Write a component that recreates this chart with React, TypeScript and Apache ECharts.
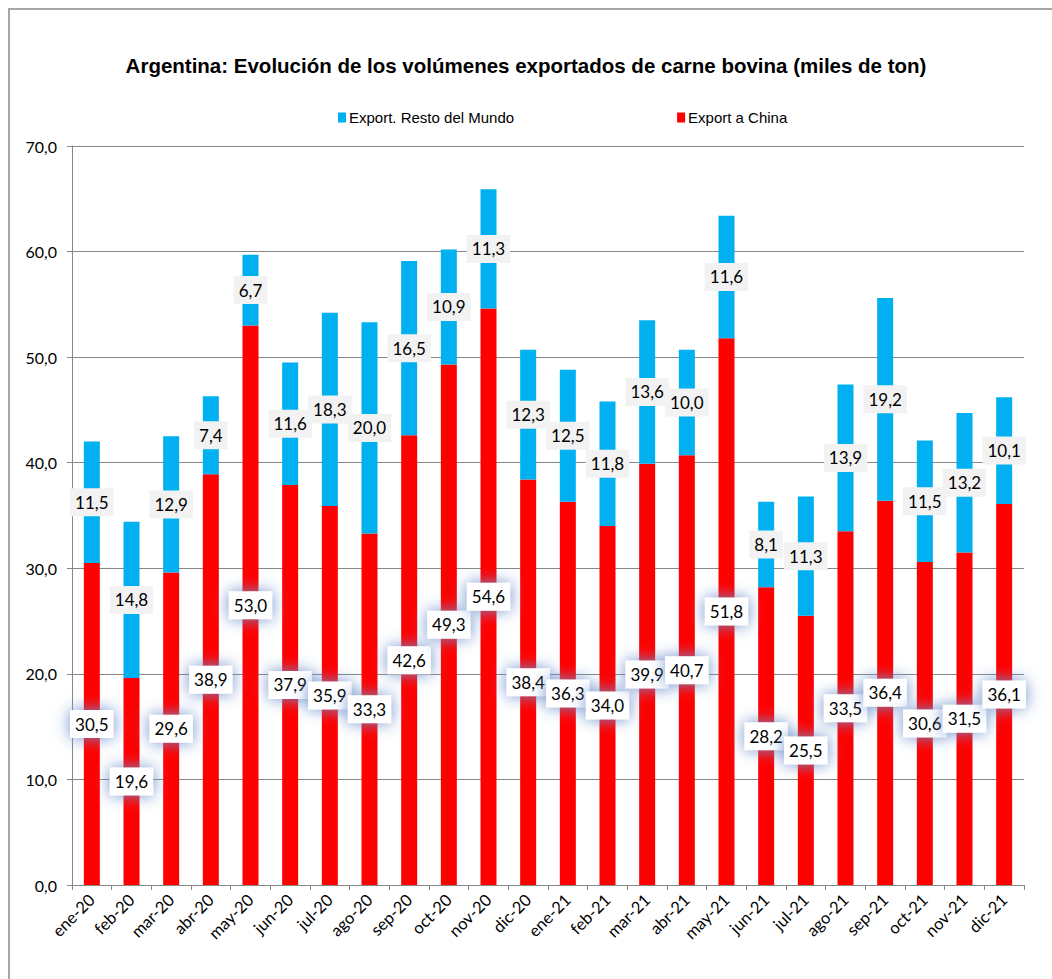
import React, { useEffect, useRef } from "react";
import * as echarts from "echarts";

const categories = [
  "ene-20", "feb-20", "mar-20", "abr-20", "may-20", "jun-20", "jul-20", "ago-20", "sep-20", "oct-20", "nov-20", "dic-20",
  "ene-21", "feb-21", "mar-21", "abr-21", "may-21", "jun-21", "jul-21", "ago-21", "sep-21", "oct-21", "nov-21", "dic-21",
];
const exportChina = [
  30.5, 19.6, 29.6, 38.9, 53.0, 37.9, 35.9, 33.3, 42.6, 49.3, 54.6, 38.4,
  36.3, 34.0, 39.9, 40.7, 51.8, 28.2, 25.5, 33.5, 36.4, 30.6, 31.5, 36.1,
];
const exportResto = [
  11.5, 14.8, 12.9, 7.4, 6.7, 11.6, 18.3, 20.0, 16.5, 10.9, 11.3, 12.3,
  12.5, 11.8, 13.6, 10.0, 11.6, 8.1, 11.3, 13.9, 19.2, 11.5, 13.2, 10.1,
];
const titleText = "Argentina: Evolución de los volúmenes exportados de carne bovina (miles de ton)";
const nameResto = "Export. Resto del Mundo";
const nameChina = "Export a China";

const fmt = (v: number) => v.toFixed(1).replace(".", ",");

export default function App() {
  const ref = useRef<HTMLDivElement>(null);
  useEffect(() => {
    if (!ref.current) return;
    const chart = echarts.init(ref.current, null, { renderer: "svg" });
    const labelFont = "Lato, 'Open Sans', sans-serif";
    chart.setOption({
      animation: false,
      backgroundColor: "#ffffff",
      title: {
        text: titleText,
        left: "center",
        top: 50,
        textStyle: {
          fontFamily: "'Liberation Sans', Arial, sans-serif",
          fontWeight: "bold",
          fontSize: 20.5,
          color: "#000",
        },
      },
      legend: {
        data: [nameResto, nameChina],
        left: 333,
        top: 105,
        itemWidth: 8,
        itemHeight: 10,
        itemGap: 163,
        icon: "rect",
        textStyle: {
          fontFamily: "'Liberation Sans', Arial, sans-serif",
          fontSize: 15,
          color: "#000",
          padding: [0, 0, 0, -2],
        },
      },
      graphic: [
        {
          type: "rect",
          shape: { x: 9, y: 9, width: 1200, height: 1200 },
          style: { fill: "none", stroke: "#a6a6a6", lineWidth: 2 },
          silent: true,
        },
      ],
      grid: { left: 72, right: 28, top: 146, bottom: 94, containLabel: false },
      xAxis: {
        type: "category",
        data: categories,
        axisLine: { show: true, lineStyle: { color: "#868686" } },
        axisTick: { show: true, interval: 0, length: 5, lineStyle: { color: "#868686" } },
        axisLabel: {
          interval: 0,
          rotate: 45,
          margin: 12,
          fontFamily: labelFont,
          fontSize: 16.5,
          color: "#000",
        },
      },
      yAxis: {
        type: "value",
        min: 0,
        max: 70,
        interval: 10,
        axisLine: { show: true, lineStyle: { color: "#868686" } },
        axisTick: { show: true, length: 5, lineStyle: { color: "#868686" } },
        splitLine: { show: true, lineStyle: { color: "#868686", width: 1 } },
        axisLabel: {
          formatter: (v: number) => fmt(v),
          margin: 15,
          fontFamily: labelFont,
          fontSize: 16,
          color: "#000",
        },
      },
      series: [
        {
          name: nameChina,
          type: "bar",
          stack: "total",
          data: exportChina,
          barWidth: 16,
          itemStyle: { color: "#ff0000" },
          label: {
            show: true,
            position: "inside",
            formatter: (p: any) => fmt(p.value),
            fontFamily: labelFont,
            fontSize: 17,
            color: "#000",
            backgroundColor: "#ffffff",
            padding: [6, 5, 5, 5],
            shadowBlur: 16,
            shadowColor: "rgba(110,145,205,1)",
          },
        },
        {
          name: nameResto,
          type: "bar",
          stack: "total",
          data: exportResto,
          barWidth: 16,
          itemStyle: { color: "#00b0f0" },
          label: {
            show: true,
            position: "inside",
            formatter: (p: any) => fmt(p.value),
            fontFamily: labelFont,
            fontSize: 17,
            color: "#000",
            backgroundColor: "#f2f2f2",
            padding: [6, 5, 5, 5],
          },
        },
      ],
    });
    return () => chart.dispose();
  }, []);
  return (
    <div
      ref={ref}
      style={{ position: "absolute", left: 0, top: 0, width: 1052, height: 979 }}
    />
  );
}
